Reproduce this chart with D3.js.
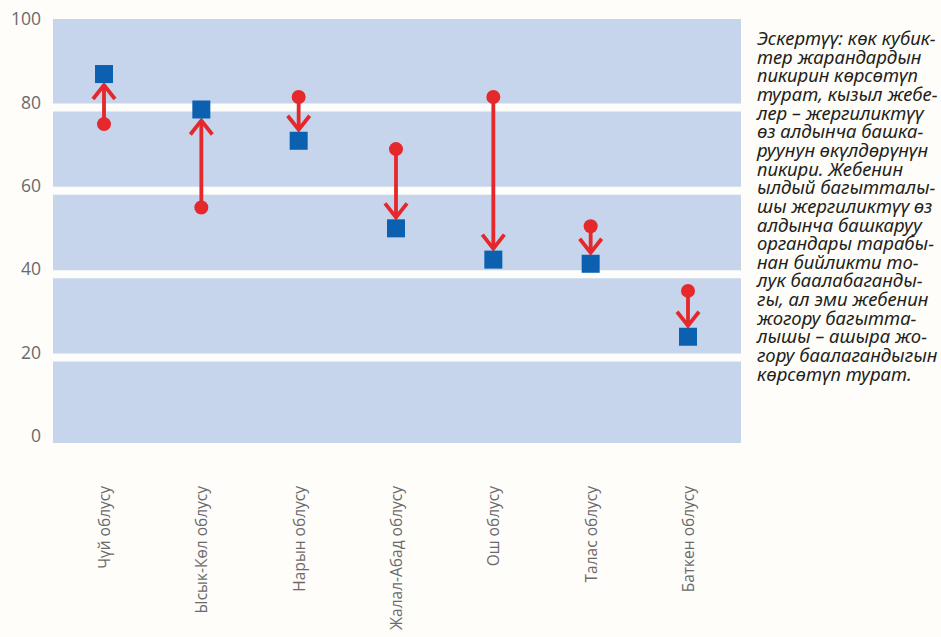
<!DOCTYPE html>
<html>
<head>
<meta charset="utf-8">
<script src="https://cdn.jsdelivr.net/npm/d3@7"></script>
<style>
  body { margin: 0; background: #fefdf9; }
  svg { display: block; }
</style>
</head>
<body>
<svg id="chart" width="941" height="637"></svg>
<script>
// Regions of Kyrgyzstan
const regions = ["Чүй облусу", "Ысык-Көл облусу", "Нарын облусу", "Жалал-Абад облусу", "Ош облусу", "Талас облусу", "Баткен облусу"];
// Citizens' assessment (blue squares)
const citizenScores = [88, 79.5, 72, 51, 43.5, 42.5, 25];
// Local self-government representatives' assessment (red circles, arrow origin)
const councilScores = [76, 56, 82.5, 70, 82.5, 51.5, 36];
const yTicks = [0, 20, 40, 60, 80, 100];
const noteLines = [
  "Эскертүү: көк кубик-",
  "тер жарандардын",
  "пикирин көрсөтүп",
  "турат, кызыл жебе-",
  "лер – жергиликтүү",
  "өз алдынча башка-",
  "руунун өкүлдөрүнүн",
  "пикири. Жебенин",
  "ылдый багытталы-",
  "шы жергиликтүү өз",
  "алдынча башкаруу",
  "органдары тарабы-",
  "нан бийликти то-",
  "лук баалабаганды-",
  "гы, ал эми жебенин",
  "жогору багытта-",
  "лышы – ашыра жо-",
  "гору баалагандыгын",
  "көрсөтүп турат."
];

const W = 941, H = 637;
const plotLeft = 53, plotRight = 741;
const blue = "#0b60b0", red = "#e4282b";

const svg = d3.select("#chart");
svg.append("rect").attr("width", W).attr("height", H).attr("fill", "#fefdf9");

const x = d3.scalePoint().domain(regions).range([104, 688]);
const y = d3.scaleLinear().domain([0, 100]).range([441, 24]);

// Plot background
svg.append("rect")
  .attr("x", plotLeft).attr("y", y(100) - 5)
  .attr("width", plotRight - plotLeft)
  .attr("height", y(0) - y(100) + 7)
  .attr("fill", "#c6d5eb");

// White grid bands
svg.append("g").selectAll("line")
  .data(yTicks.filter(d => d > 0 && d < 100))
  .join("line")
  .attr("x1", plotLeft).attr("x2", plotRight)
  .attr("y1", d => y(d)).attr("y2", d => y(d))
  .attr("stroke", "#fdfdfb").attr("stroke-width", 8);

// Y axis
const yAxis = svg.append("g")
  .attr("transform", "translate(41,0)")
  .call(d3.axisLeft(y).tickValues(yTicks).tickSize(0).tickPadding(0).tickFormat(d3.format("d")));
yAxis.select(".domain").remove();
yAxis.selectAll("text")
  .attr("y", -5)
  .attr("font-family", "'Open Sans', 'Noto Sans', sans-serif")
  .attr("font-size", 17.5)
  .attr("fill", "#6a6a6c");

// X axis with rotated region names
const xAxis = svg.append("g")
  .attr("transform", "translate(0,486)")
  .call(d3.axisBottom(x).tickSize(0).tickPadding(0));
xAxis.select(".domain").remove();
xAxis.selectAll("text")
  .attr("transform", "rotate(-90)")
  .attr("text-anchor", "end")
  .attr("x", 0).attr("y", 0).attr("dy", "0.35em")
  .attr("font-family", "'Open Sans', 'Noto Sans', sans-serif")
  .attr("font-size", 15.5)
  .attr("fill", "#6a6a6c");

// Arrows from local government view to citizens' view
const rows = regions.map((r, i) => ({ region: r, citizen: citizenScores[i], council: councilScores[i] }));
const half = 9;

const arrows = svg.append("g").attr("fill", "none").attr("stroke", red).attr("stroke-width", 3.8);
rows.forEach(d => {
  const cx = x(d.region);
  const ys = y(d.citizen), yc = y(d.council);
  const dir = ys > yc ? 1 : -1;
  const tip = ys - dir * (half + 2);
  arrows.append("line")
    .attr("x1", cx).attr("x2", cx)
    .attr("y1", yc).attr("y2", tip);
  arrows.append("path")
    .attr("stroke-linejoin", "miter")
    .attr("d", d3.line()([[cx - 11, tip - dir * 14], [cx, tip], [cx + 11, tip - dir * 14]]));
});

// Red circles
svg.append("g").selectAll("circle")
  .data(rows).join("circle")
  .attr("cx", d => x(d.region))
  .attr("cy", d => y(d.council))
  .attr("r", 7)
  .attr("fill", red);

// Blue squares
svg.append("g").selectAll("rect")
  .data(rows).join("rect")
  .attr("x", d => x(d.region) - half)
  .attr("y", d => y(d.citizen) - half)
  .attr("width", half * 2).attr("height", half * 2)
  .attr("fill", blue);

// Explanatory note, one text block with a line per tspan
const note = svg.append("g").attr("transform", "translate(757,0)");
const noteText = note.append("text")
  .attr("font-family", "'Noto Sans', 'Open Sans', sans-serif")
  .attr("font-style", "italic")
  .attr("font-size", 18.5)
  .attr("fill", "#231f20");
noteText.selectAll("tspan")
  .data(noteLines).join("tspan")
  .attr("x", 0)
  .attr("y", (d, i) => 45 + i * 18.65)
  .text(d => d);
let widest = 0;
noteText.selectAll("tspan").each(function () { widest = Math.max(widest, this.getComputedTextLength()); });
if (widest > 181) noteText.attr("transform", `scale(${181 / widest},1)`);
</script>
</body>
</html>
